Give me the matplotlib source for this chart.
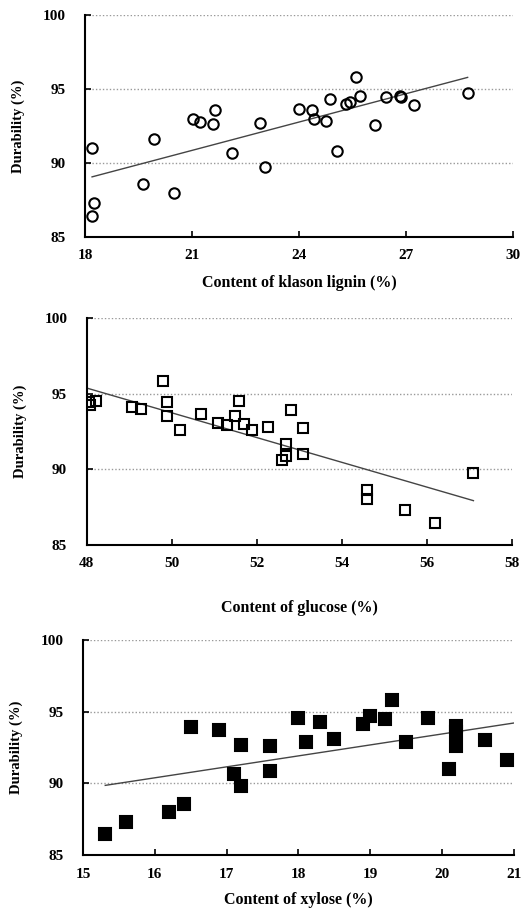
#!/usr/bin/env python3

import matplotlib
matplotlib.use("Agg")
import matplotlib.pyplot as plt
import numpy as np

# panel 1: klason lignin
lignin_x = [18.2, 18.26, 18.2, 19.64, 19.93, 20.49, 21.03, 21.22, 21.6, 21.65,
            22.12, 22.91, 23.05, 24.01, 24.38, 24.42, 24.77, 24.86, 25.07, 25.31,
            25.42, 25.61, 25.7, 26.12, 26.45, 26.84, 26.87, 27.23, 28.73]
lignin_y = [91.0, 87.3, 86.45, 88.6, 91.65, 88.0, 93.0, 92.8, 92.6, 93.6,
            90.65, 92.7, 89.75, 93.65, 93.55, 92.95, 92.83, 94.29, 90.83, 93.96,
            94.1, 95.84, 94.52, 92.58, 94.45, 94.52, 94.43, 93.93, 94.7]
lignin_fit_x = [18.2, 28.73]
lignin_fit_y = [89.06, 95.78]

# panel 2: glucose
glucose_x = [48.06, 48.08, 48.22, 49.07, 49.28, 49.79, 49.9, 49.9, 50.2, 50.69,
             51.09, 51.29, 51.49, 51.58, 51.69, 51.9, 52.27, 52.69, 52.69, 52.59,
             52.8, 53.09, 53.09, 54.6, 54.6, 55.5, 56.2, 57.08]
glucose_y = [94.45, 94.25, 94.5, 94.1, 93.98, 95.85, 94.45, 93.55, 92.58, 93.66,
             93.08, 92.9, 93.52, 94.54, 93.0, 92.58, 92.82, 91.7, 90.86, 90.64,
             93.92, 92.71, 91.0, 88.61, 88.04, 87.29, 86.45, 89.76]
glucose_fit_x = [48.0, 57.1]
glucose_fit_y = [95.37, 87.93]

# panel 3: xylose
xylose_x = [15.31, 15.6, 16.2, 16.41, 16.5, 16.9, 17.1, 17.2, 17.2, 17.6,
            17.6, 18.0, 18.1, 18.3, 18.5, 18.9, 19.0, 19.2, 19.3, 19.5,
            19.8, 20.09, 20.2, 20.2, 20.2, 20.6, 20.9]
xylose_y = [86.47, 87.33, 88.0, 88.58, 93.93, 93.72, 90.65, 92.7, 89.79, 92.58,
            90.84, 94.53, 92.86, 94.28, 93.09, 94.14, 94.7, 94.47, 95.84, 92.91,
            94.53, 91.02, 94.02, 93.6, 92.63, 93.05, 91.65]
xylose_fit_x = [15.31, 21.0]
xylose_fit_y = [89.86, 94.21]

lignin_ticks = [18, 21, 24, 27, 30]
glucose_ticks = [48, 50, 52, 54, 56, 58]
xylose_ticks = [15, 16, 17, 18, 19, 20, 21]
y_ticks = [85, 90, 95, 100]

plt.rcParams['font.family'] = 'Liberation Serif'
plt.rcParams['font.weight'] = 'bold'
plt.rcParams['font.size'] = 11

fig = plt.figure(figsize=(5.21, 9.10), dpi=100)

panels = [
    ([0.163, 0.7396, 0.8215, 0.244], lignin_x, lignin_y, lignin_fit_x, lignin_fit_y,
     lignin_ticks, "Content of klason lignin (%)", dict(marker='o', mfc='none', ms=7.5), 9),
    ([0.1664, 0.4011, 0.8157, 0.2495], glucose_x, glucose_y, glucose_fit_x, glucose_fit_y,
     glucose_ticks, "Content of glucose (%)", dict(marker='s', mfc='none', ms=7), 21),
    ([0.1593, 0.0604, 0.827, 0.2363], xylose_x, xylose_y, xylose_fit_x, xylose_fit_y,
     xylose_ticks, "Content of xylose (%)", dict(marker='s', mfc='black', ms=8), 8),
]

for rect, xs, ys, fx, fy, xt, xlabel, mk, lpad in panels:
    ax = fig.add_axes(rect)
    for v in y_ticks[1:]:
        ax.axhline(v, color='#999999', ls=(0, (1, 1.5)), lw=1.0, zorder=0)
    ax.plot(xs, ys, ls='none', mec='black', mew=1.5, zorder=3, **mk)
    ax.plot(fx, fy, color='#444444', lw=1.0, zorder=2)

    ax.set_xlim(xt[0], xt[-1])
    ax.set_ylim(85, 100)
    ax.set_xticks(xt)
    ax.set_yticks(y_ticks)
    ax.tick_params(direction='in', length=4, width=1.2, labelsize=11)
    ax.tick_params(axis='y', pad=14)
    ax.tick_params(axis='x', pad=9)
    for s in ['top', 'right']:
        ax.spines[s].set_visible(False)
    for s in ['left', 'bottom']:
        ax.spines[s].set_linewidth(1.5)
    ax.set_xlabel(xlabel, fontsize=11.5, fontweight='bold', labelpad=lpad)
    ax.set_ylabel("Durability (%)", fontsize=10.5, fontweight='bold')
    ax.yaxis.set_label_coords(-0.14, 0.5)

fig.savefig('out.png', dpi=100)
